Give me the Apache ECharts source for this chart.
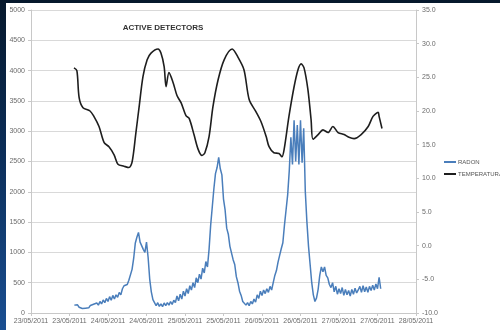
<!DOCTYPE html>
<html>
<head>
<meta charset="utf-8">
<script src="https://cdn.jsdelivr.net/npm/echarts@6/dist/echarts.min.js"></script>
<style>
  html, body { margin: 0; padding: 0; }
  body {
    width: 500px; height: 330px; overflow: hidden; position: relative;
    background: linear-gradient(180deg, #06182c 0%, #0b2d57 45%, #1a4f92 100%);
  }
  #chart {
    position: absolute; left: 6px; top: 3px; width: 494px; height: 327px;
    background: #ffffff;
  }
</style>
</head>
<body>
<div id="chart"></div>
<script>
// Date labels, one every 12 hours from 23/05/2011 00:00
const dateLabels = ['23/05/2011', '23/05/2011', '24/05/2011', '24/05/2011', '25/05/2011',
  '25/05/2011', '26/05/2011', '26/05/2011', '27/05/2011', '27/05/2011', '28/05/2011'];

// Radon readings, one every half hour starting at hour 13.5
const radonStartHour = 13.5;
const radonStepHours = 0.5;
const radonValues = [
  130, 105, 135, 95, 110, 75, 100, 80, 110, 85,
  125, 100, 145, 120, 165, 130, 190, 150, 215, 170,
  240, 190, 270, 210, 290, 230, 300, 260, 340, 300,
  400, 450, 480, 470, 540, 560, 720, 900, 1150, 1250,
  1330, 1170, 1200, 1050, 1000, 1170, 920, 560, 350, 220,
  170, 120, 170, 110, 150, 105, 165, 120, 170, 130,
  190, 140, 210, 170, 280, 200, 310, 230, 360, 280,
  400, 320, 450, 380, 500, 420, 580, 500, 640, 560,
  740, 660, 850, 760, 1050, 1450, 1750, 2050, 2300, 2400,
  2570, 2380, 2280, 1880, 1700, 1400, 1300, 1100, 1120, 880,
  800, 600, 500, 360, 290, 190, 180, 130, 170, 120,
  190, 150, 230, 180, 300, 240, 360, 290, 380, 320,
  400, 340, 440, 380, 500, 620, 700, 840, 950, 1060,
  1160, 1450, 1700, 1950, 2350, 2900, 2450, 3180, 2500, 3100,
  2450, 3180, 2480, 3050, 2000, 1500, 1100, 800, 500, 300,
  190, 250, 390, 620, 760, 680, 760, 620, 580, 470,
  420, 500, 350, 440, 310, 400, 320, 420, 290, 390,
  300, 370, 280, 390, 310, 410, 330, 380, 440, 340,
  450, 350, 430, 340, 440, 370, 460, 380, 480, 400,
  590, 400
];

// Temperature readings (hour, degrees C)
const tempHours = [13.4, 14.3, 15.0, 16.2, 18.4, 19.6, 21.2, 22.8, 24.3, 25.9,
  27.1, 29.0, 30.5, 31.5, 32.7, 33.7, 34.9, 36.2, 37.4, 39.6,
  40.5, 41.5, 42.1, 43.0, 44.3, 45.5, 46.8, 48.3, 49.3, 50.8,
  52.1, 53.3, 54.2, 55.5, 56.7, 58.3, 60.2, 62.7, 64.5, 66.4,
  68.0, 70.1, 71.7, 73.3, 74.2, 75.7, 77.3, 78.2, 78.9, 80.4,
  82.0, 83.2, 84.2, 85.1, 86.3, 87.3, 87.9, 89.5, 91.0, 92.6,
  94.1, 95.7, 97.6, 99.1, 100.7, 102.9, 105.1, 106.6, 108.2, 108.5,
  109.4];
const tempValues = [26.4, 26.0, 22.0, 20.5, 20.0, 19.2, 17.7, 15.3, 14.7, 13.5,
  12.1, 11.8, 11.6, 12.4, 16.8, 20.6, 25.1, 27.6, 28.6, 29.2,
  28.6, 26.6, 23.6, 25.7, 24.2, 22.3, 21.2, 19.3, 18.9, 16.5,
  14.3, 13.4, 13.8, 16.2, 20.6, 24.6, 27.6, 29.2, 28.0, 26.1,
  21.7, 19.9, 18.4, 16.2, 14.7, 13.8, 13.7, 13.2, 14.3, 19.2,
  23.6, 26.1, 27.0, 26.4, 23.2, 18.7, 15.8, 16.5, 17.2, 16.8,
  17.7, 16.8, 16.5, 16.1, 15.9, 16.5, 17.7, 19.2, 19.8, 19.2,
  17.4];

const radonData = radonValues.map((v, i) => [radonStartHour + i * radonStepHours, v]);
const tempData = tempValues.map((v, i) => [tempHours[i], v]);

const labelStyle = { color: '#6b6b6b', fontSize: 7, fontFamily: 'Liberation Sans, Arial, sans-serif' };

const chart = echarts.init(document.getElementById('chart'), null, { renderer: 'canvas' });
chart.setOption({
  animation: false,
  backgroundColor: '#ffffff',
  title: {
    text: 'ACTIVE DETECTORS',
    left: 152, top: 16, textAlign: 'center',
    textStyle: { fontSize: 8, fontWeight: 'bold', color: '#333333', fontFamily: 'Liberation Sans, Arial, sans-serif' }
  },
  legend: {
    orient: 'vertical',
    left: 433, top: 151,
    itemWidth: 12, itemHeight: 2, itemGap: 6,
    icon: 'rect',
    textStyle: { color: '#555555', fontSize: 6, fontFamily: 'Liberation Sans, Arial, sans-serif', padding: [0, 0, 0, -3] },
    data: ['RADON', 'TEMPERATURA']
  },
  grid: { left: 25, top: 7, width: 385, height: 303, containLabel: false },
  xAxis: {
    type: 'value', min: 0, max: 120, interval: 12,
    axisLine: { show: true, lineStyle: { color: '#c8c8c8', width: 1 } },
    axisTick: { show: true, length: 3, lineStyle: { color: '#c8c8c8' } },
    splitLine: { show: false },
    axisLabel: Object.assign({ margin: 5, formatter: (v) => dateLabels[Math.round(v / 12)] || '' }, labelStyle)
  },
  yAxis: [
    {
      type: 'value', min: 0, max: 5000, interval: 500, position: 'left',
      axisLine: { show: true, lineStyle: { color: '#c8c8c8' } },
      axisTick: { show: true, length: 3, lineStyle: { color: '#c8c8c8' } },
      splitLine: { show: true, lineStyle: { color: '#d9d9d9', width: 1.2 } },
      axisLabel: Object.assign({ margin: 6, formatter: (v) => String(v) }, labelStyle)
    },
    {
      type: 'value', min: -10, max: 35, interval: 5, position: 'right',
      axisLine: { show: true, lineStyle: { color: '#c8c8c8' } },
      axisTick: { show: true, length: 3, lineStyle: { color: '#c8c8c8' } },
      splitLine: { show: false },
      axisLabel: Object.assign({ margin: 6, formatter: (v) => v.toFixed(1) }, labelStyle)
    }
  ],
  series: [
    {
      name: 'RADON', type: 'line', yAxisIndex: 0, data: radonData,
      showSymbol: false, symbol: 'none',
      lineStyle: { color: '#4a7ebb', width: 1.5 },
      itemStyle: { color: '#4a7ebb' }
    },
    {
      name: 'TEMPERATURA', type: 'line', yAxisIndex: 1, data: tempData,
      showSymbol: false, symbol: 'none', smooth: 0.3,
      lineStyle: { color: '#1e1e1e', width: 1.6 },
      itemStyle: { color: '#1e1e1e' }
    }
  ]
});
</script>
</body>
</html>
